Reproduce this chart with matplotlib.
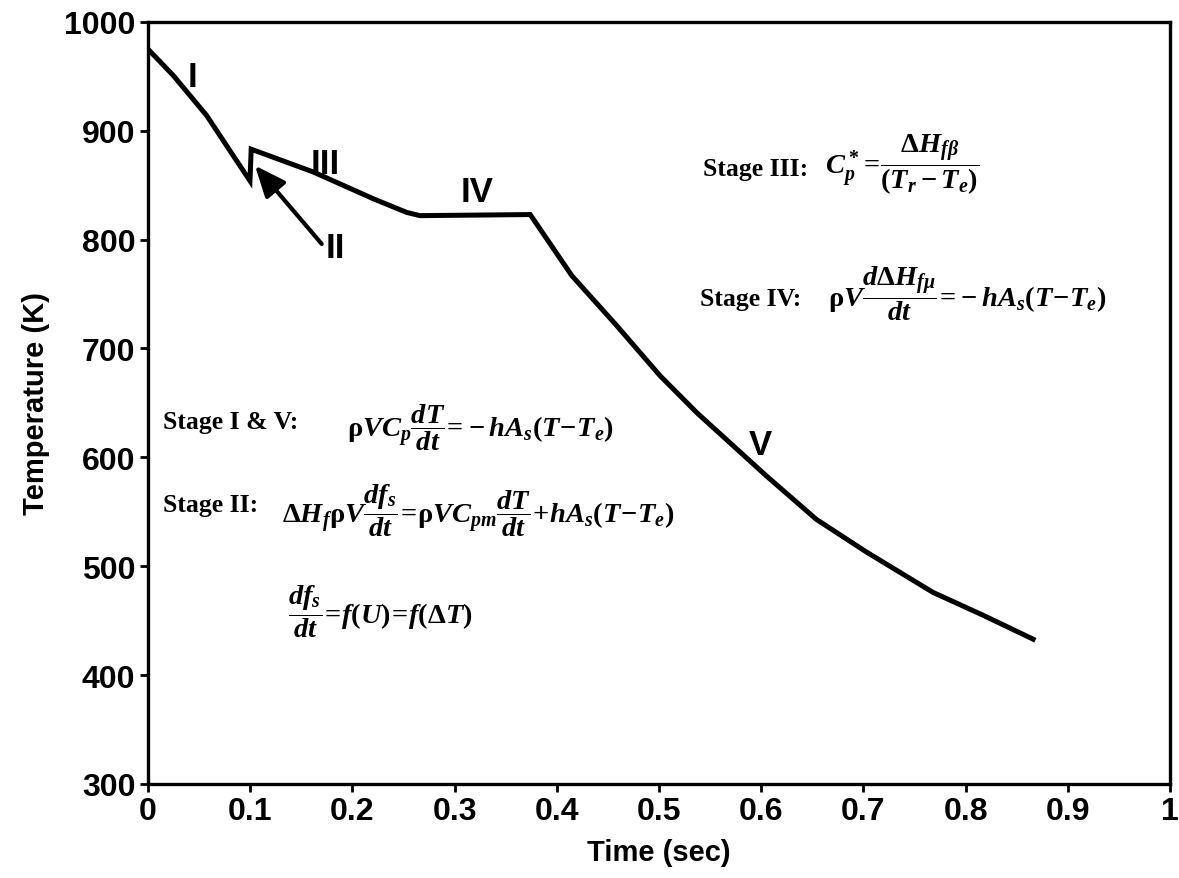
import matplotlib
matplotlib.use("Agg")
import matplotlib.pyplot as plt

# Cooling curve: time (s) vs temperature (K)
time_s = [0.0, 0.0248, 0.0574, 0.0835, 0.0998, 0.101, 0.104, 0.162, 0.2205, 0.253, 0.266,
          0.374, 0.4146, 0.4586, 0.501, 0.537, 0.605, 0.654, 0.703, 0.768, 0.817, 0.866]
temp_k = [975, 950.7, 914, 877, 854, 883, 882, 862, 837.5, 825, 822,
          823, 767, 721, 675, 641, 583, 543, 513, 476, 455, 433]

stage_labels = ["I", "III", "IV", "II", "V"]
stage_label_x = [0.044, 0.173, 0.3216, 0.183, 0.599]
stage_label_y = [950, 870, 844, 793, 612]

x_ticks = [0, 0.1, 0.2, 0.3, 0.4, 0.5, 0.6, 0.7, 0.8, 0.9, 1]
x_tick_labels = ["0", "0.1", "0.2", "0.3", "0.4", "0.5", "0.6", "0.7", "0.8", "0.9", "1"]
y_ticks = [300, 400, 500, 600, 700, 800, 900, 1000]

plt.rcParams["font.family"] = ["Liberation Sans", "DejaVu Sans"]
plt.rcParams["mathtext.fontset"] = "custom"
plt.rcParams["mathtext.rm"] = "Liberation Serif:bold"
plt.rcParams["mathtext.it"] = "Liberation Serif:bold:italic"
plt.rcParams["mathtext.bf"] = "Liberation Serif:bold"

fig = plt.figure(figsize=(11.79, 8.79), dpi=100)
ax = fig.add_axes([0.1255, 0.107, 0.8669, 0.867])

ax.plot(time_s, temp_k, color="black", lw=3.6, solid_joinstyle="miter")

ax.set_xlim(0, 1)
ax.set_ylim(300, 1000)
ax.set_xticks(x_ticks)
ax.set_xticklabels(x_tick_labels)
ax.set_yticks(y_ticks)
ax.tick_params(axis="both", labelsize=23, width=2, length=6, direction="out", pad=3)
for lbl in ax.get_xticklabels() + ax.get_yticklabels():
    lbl.set_fontweight("bold")
for sp in ax.spines.values():
    sp.set_linewidth(2.4)
ax.set_xlabel("Time (sec)", fontsize=21, fontweight="bold", labelpad=8)
ax.set_ylabel("Temperature (K)", fontsize=21, fontweight="bold", labelpad=10)

for lab, lx, ly in zip(stage_labels, stage_label_x, stage_label_y):
    ax.text(lx, ly, lab, fontsize=25, fontweight="bold", ha="center", va="center")

# Arrow pointing at the recalescence step (stage II)
ax.annotate("", xy=(0.1047, 868), xytext=(0.170, 796),
            arrowprops=dict(arrowstyle="-|>,head_length=1.9,head_width=0.8",
                            color="black", lw=3, shrinkA=0, shrinkB=0))

# Governing equations for each stage
lab_kw = dict(fontsize=18.5, family=["Liberation Serif", "DejaVu Serif"],
              fontweight="bold", va="center", ha="left")
eq_kw = dict(fontsize=20.5, va="center", ha="left")
rho = r"\mathrm{\rho}"

ax.text(0.543, 865, "Stage III:", **lab_kw)
ax.text(0.662, 869.5, r"$C_p^*\!=\!\dfrac{\Delta H_{f\beta}}{(T_r - T_e)}$", **eq_kw)

ax.text(0.540, 746, "Stage IV:", **lab_kw)
ax.text(0.665, 751, r"$" + rho + r"V\dfrac{d\Delta H_{f\mu}}{dt}\!=\!-hA_s(T\!-\!T_e)$", **eq_kw)

ax.text(0.0147, 632.5, "Stage I & V:", **lab_kw)
ax.text(0.195, 628, r"$" + rho + r"VC_p\dfrac{dT}{dt}\!=\!-hA_s(T\!-\!T_e)$", **eq_kw)

ax.text(0.0147, 557, "Stage II:", **lab_kw)
ax.text(0.131, 552, r"$\Delta H_f" + rho + r"V\dfrac{df_s}{dt}\!=\!" + rho
        + r"VC_{pm}\dfrac{dT}{dt}\!+\!hA_s(T\!-\!T_e)$", **eq_kw)

ax.text(0.137, 459, r"$\dfrac{df_s}{dt}\!=\!f(U)\!=\!f(\Delta T)$", **eq_kw)

fig.savefig("out.png", dpi=100)
